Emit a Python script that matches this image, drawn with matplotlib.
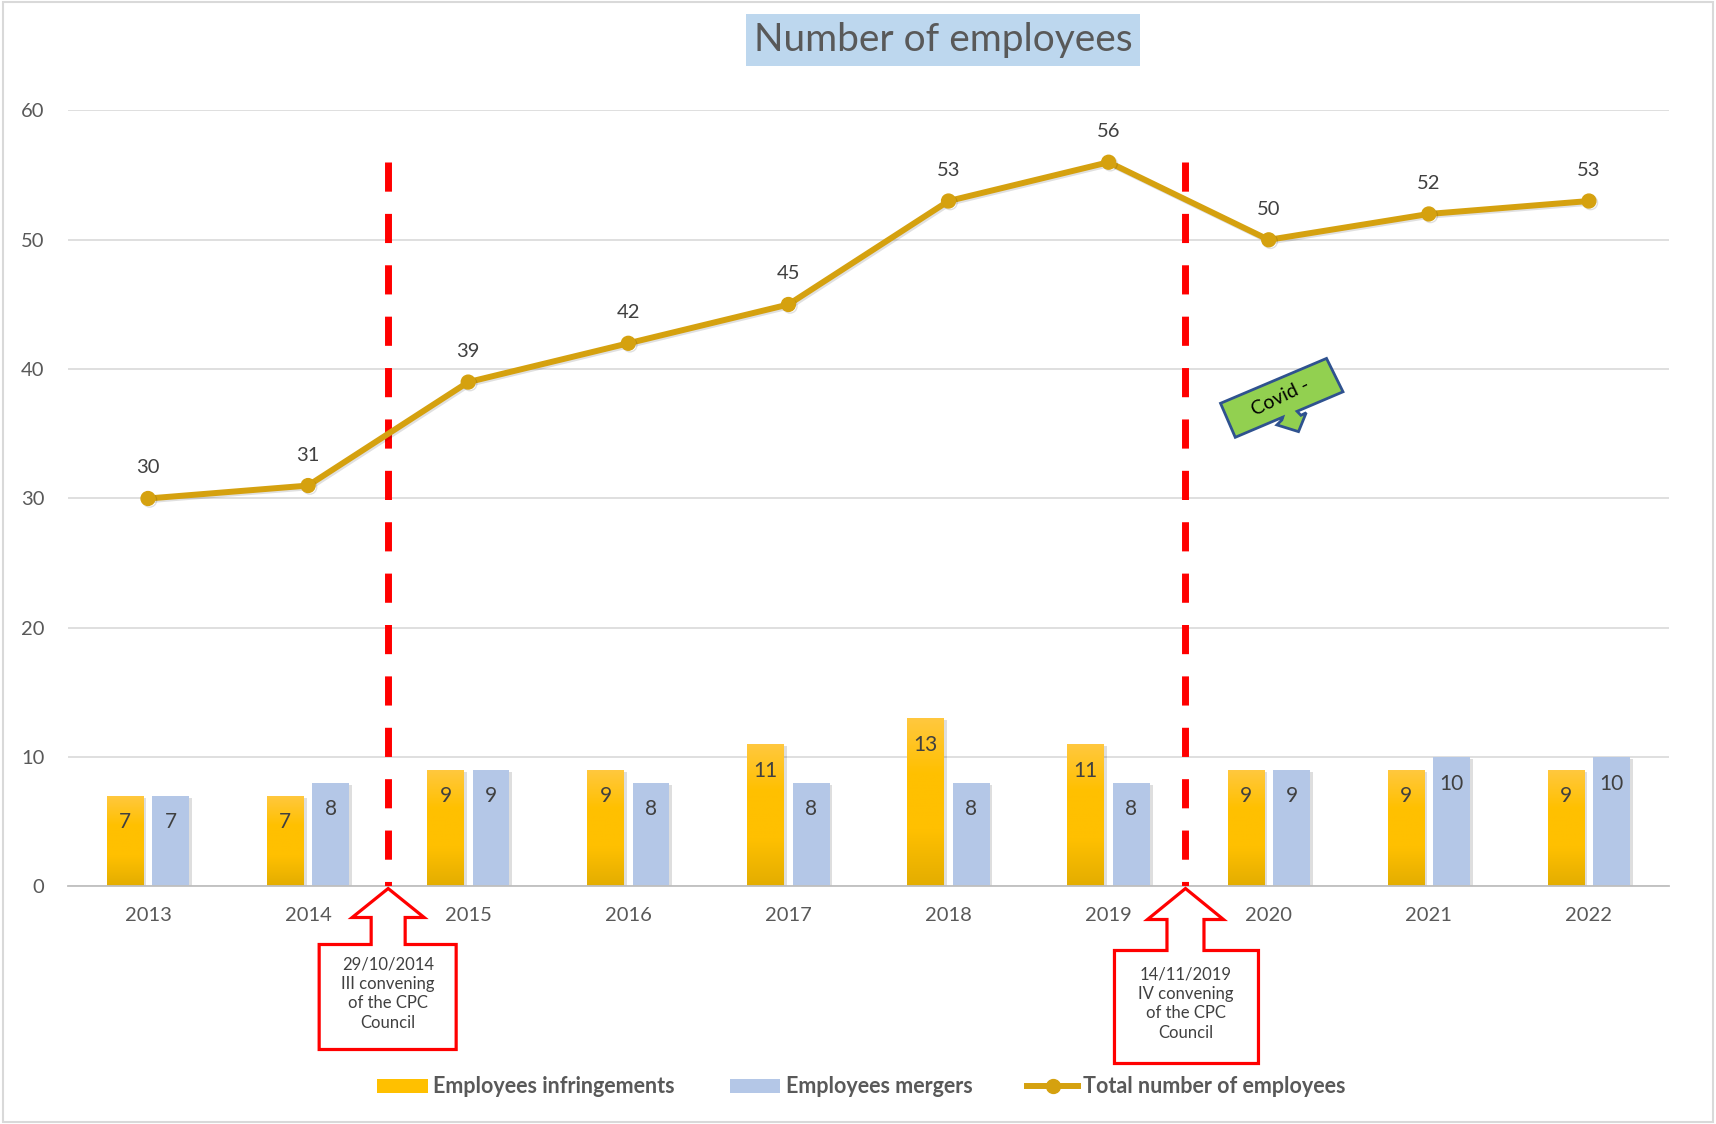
import numpy as np
import matplotlib
matplotlib.use('Agg')
import matplotlib.pyplot as plt
import matplotlib.patheffects as pe
from matplotlib.patches import Polygon, Rectangle, Patch
from matplotlib.lines import Line2D
from matplotlib.colors import LinearSegmentedColormap

# data
years = ['2013', '2014', '2015', '2016', '2017', '2018', '2019', '2020', '2021', '2022']
infringements = [7, 7, 9, 9, 11, 13, 11, 9, 9, 9]
mergers = [7, 8, 9, 8, 8, 8, 8, 9, 10, 10]
total = [30, 31, 39, 42, 45, 53, 56, 50, 52, 53]

event_pos = [1.5, 6.48]   # between categories
event_top = 56
event_texts = ['29/10/2014\nIII convening\nof the CPC\nCouncil',
               '14/11/2019\nIV convening\nof the CPC\nCouncil']

plt.rcParams['font.family'] = ['Lato', 'DejaVu Sans']

YELLOW = '#FFC000'
BLUE = '#B4C7E7'
GOLD = '#D5A10F'
GREY_TXT = '#595959'
LABEL_TXT = '#404040'

fig = plt.figure(figsize=(17.16, 11.24), dpi=100)
ax = fig.add_axes([0.0396, 0.2113, 0.9330, 0.6904])

x = np.arange(len(years))
ax.set_xlim(-0.5, len(years) - 0.5)
ax.set_ylim(0, 60)
ax.set_yticks(range(0, 61, 10))
ax.set_xticks(x)
ax.set_xticklabels(years)
ax.grid(axis='y', color='#D9D9D9', lw=1.2)
ax.set_axisbelow(True)
for s in ['top', 'right', 'left']:
    ax.spines[s].set_visible(False)
ax.spines['bottom'].set_color('#BFBFBF')
ax.spines['bottom'].set_linewidth(1.3)
ax.tick_params(length=0, labelsize=14.5, labelcolor=GREY_TXT)
ax.tick_params(axis='x', pad=15)
ax.tick_params(axis='y', pad=17)

# bars
w = 0.23
off = 0.142
shadow = [pe.SimplePatchShadow(offset=(2, -1.5), alpha=0.13, shadow_rgbFace='k'), pe.Normal()]
ybars = ax.bar(x - off, infringements, w, color=YELLOW, zorder=2, path_effects=shadow)
bbars = ax.bar(x + off, mergers, w, color=BLUE, zorder=2, path_effects=shadow)

# gradient fill on the yellow bars
ycmap = LinearSegmentedColormap.from_list('yel', ['#E3AD00', '#FFC000', '#FFC000', '#FFC840'])
grad = np.linspace(0, 1, 256).reshape(-1, 1)
for b in ybars:
    x0 = b.get_x()
    im = ax.imshow(grad, cmap=ycmap, origin='lower', aspect='auto', zorder=2.1,
                   extent=[x0, x0 + b.get_width(), 0, b.get_height()])
    im.set_clip_path(b)
ax.set_xlim(-0.5, len(years) - 0.5)
ax.set_ylim(0, 60)

for xi, v in zip(x - off, infringements):
    ax.annotate(str(v), (xi, v), xytext=(0, -19), textcoords='offset points',
                ha='center', va='center', fontsize=15, color=LABEL_TXT, zorder=3)
for xi, v in zip(x + off, mergers):
    ax.annotate(str(v), (xi, v), xytext=(0, -19), textcoords='offset points',
                ha='center', va='center', fontsize=15, color=LABEL_TXT, zorder=3)

# event lines
for p in event_pos:
    ax.plot([p, p], [event_top, 0], color='#FF0000', lw=5, ls=(0, (4.2, 3.2)),
            solid_capstyle='butt', dash_capstyle='butt', zorder=3)

# total line
ax.plot(x, total, color=GOLD, lw=4.3, marker='o', ms=10, zorder=4,
        path_effects=[pe.SimpleLineShadow(offset=(1.2, -1.2), alpha=0.12), pe.Normal()])
for xi, v in zip(x, total):
    ax.annotate(str(v), (xi, v), xytext=(0, 22), textcoords='offset points',
                ha='center', va='center', fontsize=14.5, color=LABEL_TXT)


def px_to_data(anchor, offsets):
    a = ax.transData.transform(anchor)
    return ax.transData.inverted().transform(a + np.array(offsets, dtype=float))


def callout(xc, text, head_y, head_w, stem_w, stem_y, box_l, box_r, box_b, text_y):
    pts = [(0, -2), (head_w, head_y), (stem_w, head_y), (stem_w, stem_y),
           (box_r, stem_y), (box_r, box_b), (box_l, box_b), (box_l, stem_y),
           (-stem_w, stem_y), (-stem_w, head_y), (-head_w, head_y)]
    poly = Polygon(px_to_data((xc, 0), pts), closed=True, facecolor='white',
                   edgecolor='#FF0000', lw=2.3, clip_on=False, zorder=5)
    ax.add_patch(poly)
    tx, ty = px_to_data((xc, 0), [(0, text_y)])[0]
    ax.text(tx, ty, text, ha='center', va='center', fontsize=12, color=LABEL_TXT,
            linespacing=1.28, clip_on=False, zorder=6)


callout(event_pos[0], event_texts[0], -31, 36, 17, -58, -69, 68, -163, -107)
callout(event_pos[1], event_texts[1], -33, 38, 18.5, -64, -71, 73, -177, -117)

# covid arrow
covid = [(6.699, 37.36), (7.361, 40.83), (7.464, 38.25), (7.177, 36.74),
         (7.201, 36.43), (7.234, 36.63), (7.186, 35.17), (7.051, 35.69),
         (7.082, 36.07), (7.088, 36.29), (6.791, 34.73)]
ax.add_patch(Polygon(covid, closed=True, facecolor='#92D050', edgecolor='#2F528F',
                     lw=2, zorder=5))
p1 = ax.transData.transform(covid[0])
p2 = ax.transData.transform(covid[1])
ang = np.degrees(np.arctan2(p2[1] - p1[1], p2[0] - p1[0]))
ax.text(7.075, 37.85, 'Covid -', rotation=ang + 3, rotation_mode='anchor', ha='center',
        va='center', fontsize=14, color='black', zorder=6)

# title
fig.text(0.5495, 0.9645, 'Number of employees', ha='center', va='center', fontsize=28,
         color=GREY_TXT, bbox=dict(boxstyle='square,pad=0.2', facecolor='#BDD7EE',
                                   edgecolor='none'))

# legend
handles = [Patch(facecolor=YELLOW), Patch(facecolor=BLUE),
           Line2D([], [], color=GOLD, lw=4.3, marker='o', ms=10)]
labels = ['Employees infringements', 'Employees mergers', 'Total number of employees']
fig.legend(handles, labels, loc='center', bbox_to_anchor=(0.502, 0.033), ncol=3,
           frameon=False, prop={'weight': 'bold', 'size': 15.5}, labelcolor=GREY_TXT,
           handlelength=2.35, handleheight=0.65, handletextpad=0.25, columnspacing=2.55)

# chart border
fig.patches.append(Rectangle((0.0015, 0.002), 0.9965, 0.996, transform=fig.transFigure,
                             fill=False, edgecolor='#D9D9D9', lw=1.5))

plt.savefig('out.png', dpi=100)
plt.close()
